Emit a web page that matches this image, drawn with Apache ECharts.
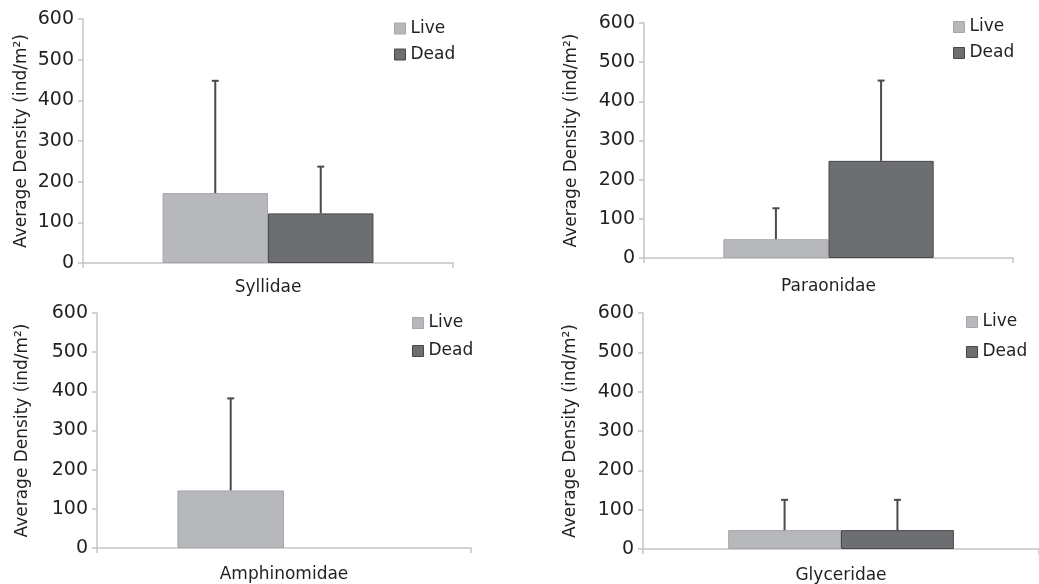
<!DOCTYPE html>
<html><head><meta charset="utf-8">
<script src="https://cdn.jsdelivr.net/npm/echarts@6/dist/echarts.min.js"></script>
<style>html,body{margin:0;padding:0;background:#fff}#c{width:1039px;height:584px}</style>
</head><body><div id="c"></div>
<script>
const families = ['Syllidae', 'Paraonidae', 'Amphinomidae', 'Glyceridae'];
const liveMean = [172, 48, 147, 48];
const liveErrTop = [448, 127, 382, 125];
const deadMean = [122, 248, 0, 48];
const deadErrTop = [237, 453, null, 125];
const yTicks = [0, 100, 200, 300, 400, 500, 600];
const yTitle = 'Average Density (ind/m\u00b2)';

const grids = [
  {left: 83, top: 19, width: 370, height: 244},
  {left: 644, top: 23, width: 369, height: 235},
  {left: 97, top: 313, width: 374, height: 235},
  {left: 643, top: 313, width: 400, height: 237}
];
const legendPos = [
  {left: 394, top: 20, gap: 9},
  {left: 953, top: 18.5, gap: 9},
  {left: 412, top: 314.5, gap: 11},
  {left: 966, top: 313.5, gap: 13}
];
const nameGaps = [53, 64, 66, 64];
const catMargins = [16, 20, 18, 18];
const GAP = 0.43;
const FONT = 'DejaVu Sans';
const TXT = '#231f20';
const AX = '#c4c4c4';
const LIVE = '#b7b8bb', LIVE_B = '#a6a7aa';
const DEAD = '#6d6e72', DEAD_B = '#47484b';

function errRender(sign) {
  return function (params, api) {
    const top = api.value(2);
    if (top === null || isNaN(top)) return null;
    const p0 = api.coord([api.value(0), api.value(1)]);
    const p1 = api.coord([api.value(0), top]);
    const band = api.size([1, 0])[0];
    const bw = band * (1 - GAP) / 2;
    const x = p0[0] + sign * bw / 2;
    const st = {stroke: '#4a4a4d', lineWidth: 2};
    return {type: 'group', children: [
      {type: 'line', shape: {x1: x, y1: p0[1], x2: x, y2: p1[1]}, style: st},
      {type: 'line', shape: {x1: x - 3.5, y1: p1[1], x2: x + 3.5, y2: p1[1]}, style: st}
    ]};
  };
}

function barItem(v) {
  return v === 0 ? {value: v, itemStyle: {borderWidth: 0}} : v;
}

const option = {
  animation: false,
  backgroundColor: '#fff',
  textStyle: {fontFamily: FONT, color: TXT},
  grid: grids,
  legend: legendPos.map((l, i) => ({
    left: l.left, top: l.top, orient: 'vertical', padding: 0, itemGap: l.gap,
    itemWidth: 11, itemHeight: 11, icon: 'rect',
    data: [
      {name: 'Live', itemStyle: {color: LIVE, borderColor: LIVE_B, borderWidth: 1}},
      {name: 'Dead', itemStyle: {color: DEAD, borderColor: DEAD_B, borderWidth: 1}}
    ],
    textStyle: {fontFamily: FONT, fontSize: 17, color: TXT, lineHeight: 17}
  })),
  xAxis: families.map((f, i) => ({
    type: 'category', gridIndex: i, data: [f],
    axisLine: {lineStyle: {color: AX, width: 1.5}},
    axisTick: {show: true, length: 5, lineStyle: {color: AX, width: 1.5}},
    axisLabel: {fontFamily: FONT, fontSize: 17, color: TXT, margin: catMargins[i]}
  })),
  yAxis: families.map((f, i) => ({
    type: 'value', gridIndex: i, min: yTicks[0], max: yTicks[yTicks.length - 1],
    interval: yTicks[1] - yTicks[0],
    name: yTitle, nameLocation: 'middle', nameGap: nameGaps[i], nameRotate: 90,
    nameTextStyle: {fontFamily: FONT, fontSize: 17, color: TXT},
    axisLine: {show: true, lineStyle: {color: AX, width: 1.5}},
    axisTick: {show: true, length: 5, lineStyle: {color: AX, width: 1.5}},
    splitLine: {show: false},
    axisLabel: {fontFamily: FONT, fontSize: 19, color: TXT, margin: 9}
  })),
  series: []
};

families.forEach((f, i) => {
  option.series.push({
    name: 'Live', type: 'bar', xAxisIndex: i, yAxisIndex: i,
    data: [barItem(liveMean[i])], barGap: '0%', barCategoryGap: (GAP * 100) + '%',
    itemStyle: {color: LIVE, borderColor: LIVE_B, borderWidth: 1}, z: 2
  });
  option.series.push({
    name: 'Dead', type: 'bar', xAxisIndex: i, yAxisIndex: i,
    data: [barItem(deadMean[i])], barGap: '0%', barCategoryGap: (GAP * 100) + '%',
    itemStyle: {color: DEAD, borderColor: DEAD_B, borderWidth: 1}, z: 2
  });
  option.series.push({
    name: 'Live', type: 'custom', xAxisIndex: i, yAxisIndex: i, z: 3,
    renderItem: errRender(-1), data: [[0, liveMean[i], liveErrTop[i]]]
  });
  option.series.push({
    name: 'Dead', type: 'custom', xAxisIndex: i, yAxisIndex: i, z: 3,
    renderItem: errRender(1), data: [[0, deadMean[i], deadErrTop[i] === null ? NaN : deadErrTop[i]]]
  });
});

const chart = echarts.init(document.getElementById('c'));
chart.setOption(option);
</script>
</body></html>
